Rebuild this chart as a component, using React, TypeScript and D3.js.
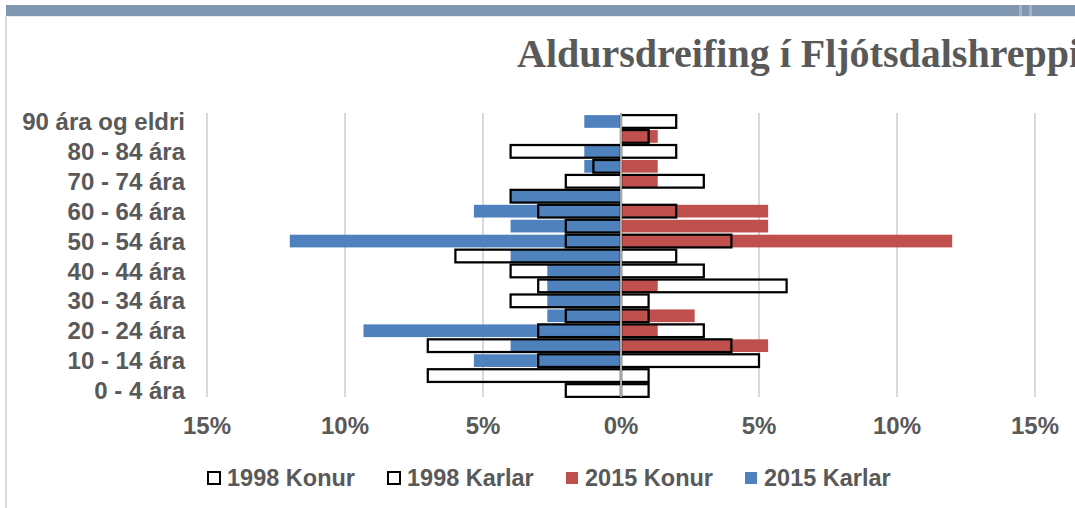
import React, { useRef, useEffect } from 'react';
import * as d3 from 'd3';

const WIDTH = 1075;
const HEIGHT = 508;

const AGE_GROUPS = [
  '0 - 4 ára', '5 - 9 ára', '10 - 14 ára', '15 - 19 ára', '20 - 24 ára',
  '25 - 29 ára', '30 - 34 ára', '35 - 39 ára', '40 - 44 ára', '45 - 49 ára',
  '50 - 54 ára', '55 - 59 ára', '60 - 64 ára', '65 - 69 ára', '70 - 74 ára',
  '75 - 79 ára', '80 - 84 ára', '85 - 89 ára', '90 ára og eldri'
];

// percent of population, youngest first
const KARLAR_1998 = [2, 7, 3, 7, 3, 2, 4, 3, 4, 6, 2, 2, 3, 4, 2, 1, 4, 0, 0];
const KONUR_1998 = [1, 1, 5, 4, 3, 1, 1, 6, 3, 2, 4, 0, 2, 0, 3, 0, 2, 1, 2];
const KARLAR_2015 = [0, 0, 5.33, 4, 9.33, 2.67, 2.67, 2.67, 2.67, 4, 12, 4, 5.33, 4, 0, 1.33, 1.33, 0, 1.33];
const KONUR_2015 = [0, 0, 0, 5.33, 1.33, 2.67, 0, 1.33, 0, 0, 12, 5.33, 5.33, 0, 1.33, 1.33, 0, 1.33, 0];

const X_TICKS = [-15, -10, -5, 0, 5, 10, 15];

const LEGEND_ITEMS = ['1998 Konur', '1998 Karlar', '2015 Konur', '2015 Karlar'];

const BLUE = '#4f81bd';
const RED = '#c0504d';
const TEXT = '#595959';
const FONT = '"Liberation Sans", Arial, sans-serif';

function App() {
  const svgRef = useRef<SVGSVGElement>(null);

  useEffect(() => {
    document.body.style.margin = '0';
    const svg = d3.select(svgRef.current);
    svg.selectAll('*').remove();

    svg.append('rect').attr('width', WIDTH).attr('height', HEIGHT).attr('fill', '#fff');

    // frame decoration
    svg.append('rect').attr('x', 6).attr('y', 5).attr('width', WIDTH - 6).attr('height', 11).attr('fill', '#8095b0');
    svg.append('rect').attr('x', 1019).attr('y', 5).attr('width', 3).attr('height', 11).attr('fill', '#a3b3c7');
    svg.append('rect').attr('x', 1029).attr('y', 5).attr('width', 3).attr('height', 11).attr('fill', '#a3b3c7');
    svg.append('line').attr('x1', 6).attr('x2', WIDTH).attr('y1', 16.5).attr('y2', 16.5)
      .attr('stroke', '#ececec').attr('stroke-width', 1);
    svg.append('line').attr('x1', 6).attr('x2', 6).attr('y1', 16).attr('y2', HEIGHT)
      .attr('stroke', '#d9d9d9').attr('stroke-width', 2);

    // Title
    svg.append('text')
      .attr('x', 517)
      .attr('y', 67)
      .attr('font-family', '"Liberation Serif", "Times New Roman", serif')
      .attr('font-weight', 'bold')
      .attr('font-size', 40)
      .attr('fill', TEXT)
      .text('Aldursdreifing í Fljótsdalshreppi');

    // Scales
    const x = d3.scaleLinear().domain([-15, 15]).range([207, 1035]);
    const y = d3.scaleBand<string>()
      .domain(AGE_GROUPS.slice().reverse())
      .range([114, 398])
      .paddingInner(0.15)
      .paddingOuter(0.075);

    // Gridlines
    svg.append('g')
      .selectAll('line')
      .data(X_TICKS.filter(t => t !== 0))
      .enter()
      .append('line')
      .attr('x1', d => x(d))
      .attr('x2', d => x(d))
      .attr('y1', 113)
      .attr('y2', 397)
      .attr('stroke', '#d9d9d9')
      .attr('stroke-width', 2);

    const rows = AGE_GROUPS.map((g, i) => ({
      group: g,
      karlar98: KARLAR_1998[i],
      konur98: KONUR_1998[i],
      karlar15: KARLAR_2015[i],
      konur15: KONUR_2015[i]
    }));

    // 2015 filled bars
    const filled = svg.append('g');
    filled.selectAll('.karlar15')
      .data(rows.filter(d => d.karlar15 > 0))
      .enter()
      .append('rect')
      .attr('x', d => x(-d.karlar15))
      .attr('y', d => y(d.group)!)
      .attr('width', d => x(0) - x(-d.karlar15))
      .attr('height', y.bandwidth())
      .attr('fill', BLUE);
    filled.selectAll('.konur15')
      .data(rows.filter(d => d.konur15 > 0))
      .enter()
      .append('rect')
      .attr('x', x(0))
      .attr('y', d => y(d.group)!)
      .attr('width', d => x(d.konur15) - x(0))
      .attr('height', y.bandwidth())
      .attr('fill', RED);

    // 1998 outlined bars
    const outlined = svg.append('g')
      .attr('fill', 'none')
      .attr('stroke', '#000')
      .attr('stroke-width', 2.25);
    outlined.selectAll('.karlar98')
      .data(rows.filter(d => d.karlar98 > 0))
      .enter()
      .append('rect')
      .attr('x', d => x(-d.karlar98))
      .attr('y', d => y(d.group)!)
      .attr('width', d => x(0) - x(-d.karlar98))
      .attr('height', y.bandwidth());
    outlined.selectAll('.konur98')
      .data(rows.filter(d => d.konur98 > 0))
      .enter()
      .append('rect')
      .attr('x', x(0))
      .attr('y', d => y(d.group)!)
      .attr('width', d => x(d.konur98) - x(0))
      .attr('height', y.bandwidth());

    // Center axis
    svg.append('line')
      .attr('x1', x(0))
      .attr('x2', x(0))
      .attr('y1', 113)
      .attr('y2', 397)
      .attr('stroke', '#a6a6a6')
      .attr('stroke-width', 2);

    // Category labels (every other one)
    svg.append('g')
      .selectAll('text')
      .data(AGE_GROUPS.filter((_, i) => i % 2 === 0))
      .enter()
      .append('text')
      .attr('x', 185)
      .attr('y', d => y(d)! + y.bandwidth() / 2)
      .attr('dy', '0.36em')
      .attr('text-anchor', 'end')
      .attr('font-family', FONT)
      .attr('font-weight', 'bold')
      .attr('font-size', 24)
      .attr('fill', TEXT)
      .text(d => d);

    // X tick labels
    svg.append('g')
      .selectAll('text')
      .data(X_TICKS)
      .enter()
      .append('text')
      .attr('x', d => x(d))
      .attr('y', 434)
      .attr('text-anchor', 'middle')
      .attr('font-family', FONT)
      .attr('font-weight', 'bold')
      .attr('font-size', 24)
      .attr('fill', TEXT)
      .text(d => `${Math.abs(d)}%`);

    // Legend
    const legendX = [208, 388, 566, 745];
    const legend = svg.append('g');
    const items = legend.selectAll('.legend-item')
      .data(LEGEND_ITEMS)
      .enter()
      .append('g')
      .attr('transform', (d, i) => `translate(${legendX[i]}, 478)`);

    items.append('rect')
      .attr('x', 0)
      .attr('y', -6)
      .attr('width', 12)
      .attr('height', 12)
      .attr('fill', (d, i) => (i === 2 ? RED : i === 3 ? BLUE : '#fff'))
      .attr('stroke', (d, i) => (i < 2 ? '#000' : 'none'))
      .attr('stroke-width', 2);

    items.append('text')
      .attr('x', 19)
      .attr('y', 8)
      .attr('font-family', FONT)
      .attr('font-weight', 'bold')
      .attr('font-size', 23.5)
      .attr('fill', TEXT)
      .text(d => d);
  }, []);

  return (
    <div style={{ width: WIDTH, height: HEIGHT }}>
      <svg ref={svgRef} width={WIDTH} height={HEIGHT} style={{ display: 'block' }}></svg>
    </div>
  );
}

export default App;
